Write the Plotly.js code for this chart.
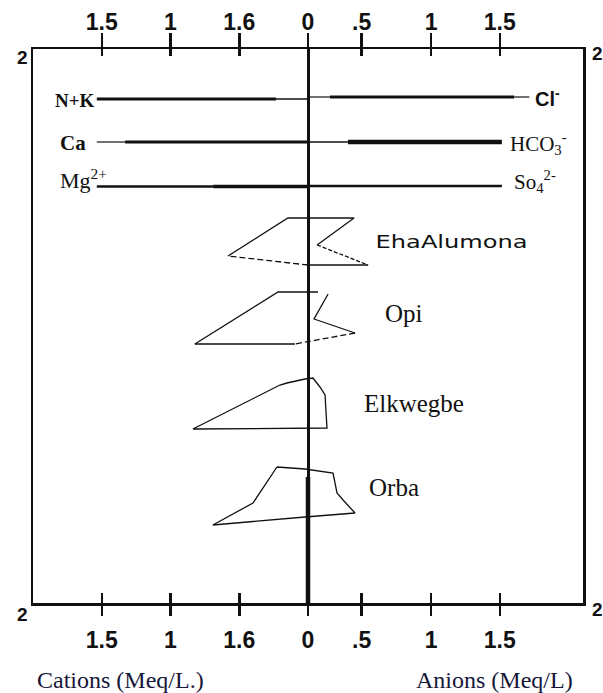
<!DOCTYPE html>
<html><head><meta charset="utf-8">
<script src="https://cdn.plot.ly/plotly-3.0.1.min.js"></script>
<style>html,body{margin:0;padding:0;background:#fff}</style>
</head><body><div id="chart" style="width:603px;height:693px"></div>
<script>
// ---- axis ticks (position in Meq/L, cations to the left) ----
const tickPos = [-1.5, -1, -0.5, 0, 0.39, 0.895, 1.395];
const topTickText = ['1.5', '1', '1.6', '0', '.5', '1', '1.5'];
const bottomTickText = ['1.5', '1', '1.6', '0', '.5', '1', '1.5'];

// ---- key rows (x in Meq/L, y = vertical position) ----
const nkX = [-1.536, -0.233, 0];      const nkY = 50;
const clX = [0, 0.16, 1.50, 1.61];    const clY = 48;
const caX = [-1.536, -1.33, 0];       const caY = 93;
const hco3X = [0, 0.29, 1.41];        const hco3Y = 93;
const mgX = [-1.536, -0.69, 0];       const mgY = 137.5;
const so4X = [0, 1.41];               const so4Y = 137;

// ---- Stiff polygons ----
const ehaX = [-0.582, -0.146, 0.335, 0.066, 0.437, 0, -0.582];
const ehaY = [207, 169, 169, 196, 216, 216, 207];
const opiX = [-0.823, -0.218, 0.073, 0.146, 0.044, 0.342, -0.095, -0.823];
const opiY = [295, 243, 243, 245, 270, 284, 295, 295];
const elkX = [-0.837, -0.204, -0.153, -0.022, 0.036, 0.087, 0.124, 0.131, 0.138, -0.837];
const elkY = [380, 336, 334, 330, 329, 338, 346, 358, 379, 380];
const orbaX = [-0.226, -0.022, 0.182, 0.211, 0.255, 0.342, -0.022, -0.692, -0.400, -0.226];
const orbaY = [418, 420, 424, 444, 451, 464, 468, 476, 454, 418];
// heavier stretch of the zero line below Orba
const axisBoldX = [0, 0];
const axisBoldY = [428, 554];

const traces = [];
function seg(xs, ys, i0, i1, width, dash) {
  traces.push({x: xs.slice(i0, i1 + 1), y: ys.slice(i0, i1 + 1), mode: 'lines', type: 'scatter',
    line: {color: '#111', width: width, dash: dash || 'solid'}, hoverinfo: 'skip', showlegend: false});
}
function keyRow(xs, y, widths) {
  for (let i = 0; i < xs.length - 1; i++) seg(xs, xs.map(() => y), i, i + 1, widths[i]);
}
keyRow(nkX, nkY, [3, 1.4]);
keyRow(clX, clY, [1.2, 3, 1.2]);
keyRow(caX, caY, [1.2, 3]);
keyRow(hco3X, hco3Y, [1.3, 4.5]);
keyRow(mgX, mgY, [2.6, 3.6]);
keyRow(so4X, so4Y, [2.6]);

const pw = 1.3;
seg(ehaX, ehaY, 0, 3, pw); seg(ehaX, ehaY, 3, 4, pw, '4px,2px'); seg(ehaX, ehaY, 4, 5, pw); seg(ehaX, ehaY, 5, 6, pw, '6px,3px');
seg(opiX, opiY, 0, 2, pw); seg(opiX, opiY, 3, 5, pw); seg(opiX, opiY, 5, 6, pw, '6px,3px'); seg(opiX, opiY, 6, 7, pw);
seg(elkX, elkY, 0, elkX.length - 1, pw);
seg(orbaX, orbaY, 0, orbaX.length - 1, pw);
seg(axisBoldX, axisBoldY, 0, 1, 4.5);

// invisible anchors for the extra tick axes
['x2', 'x3', 'x4'].forEach(ax => traces.push({x: [0], y: [0], xaxis: ax, yaxis: 'y', mode: 'markers',
  marker: {opacity: 0}, hoverinfo: 'skip', showlegend: false}));

const tickFont = {family: 'Liberation Sans, Arial, sans-serif', size: 23, color: '#111', weight: 'bold'};
const base = {range: [-2, 2], showgrid: false, zeroline: false, fixedrange: true, tickvals: tickPos, tickwidth: 2.5, tickcolor: '#111'};

const serif = 'Liberation Serif, Times New Roman, serif';
const ann = [];
function lab(text, x, y, font, xanchor) {
  ann.push({text: text, x: x, y: y, xref: 'x', yref: 'y', showarrow: false, xanchor: xanchor || 'left', yanchor: 'middle', font: font});
}
lab('N+K', -1.536, 51, {family: serif, size: 19, color: '#111', weight: 'bold'}, 'right');
lab('Ca', -1.60, 94, {family: serif, size: 21, color: '#111', weight: 'bold'}, 'right');
lab('Mg<sup>2+</sup>', -1.82, 130, {family: serif, size: 22, color: '#111'});
lab('Cl<sup>-</sup>', 1.638, 48, {family: 'Liberation Sans, Arial, sans-serif', size: 20, color: '#111', weight: 'bold'});
lab('HCO<sub>3</sub><sup>-</sup>', 1.456, 94, {family: serif, size: 21, color: '#111'});
lab('So<sub>4</sub><sup>2-</sup>', 1.485, 132, {family: serif, size: 21, color: '#111'});
lab('EhaAlumona', 1.041, 193, {family: 'DejaVu Sans, sans-serif', size: 17, color: '#111'}, 'center');
lab('Opi', 0.546, 264, {family: serif, size: 25, color: '#111'});
lab('Elkwegbe', 0.393, 354, {family: serif, size: 25, color: '#111'});
lab('Orba', 0.43, 438, {family: serif, size: 25, color: '#111'});

function pann(text, x, y, font, xanchor) {
  ann.push({text: text, x: x, y: y, xref: 'paper', yref: 'paper', showarrow: false, xanchor: xanchor || 'center', yanchor: 'middle', font: font});
}
const cornerFont = {family: 'Liberation Sans, Arial, sans-serif', size: 19, color: '#111', weight: 'bold'};
pann('2', -0.02, 0.984, cornerFont);
pann('2', -0.02, -0.02, cornerFont);
pann('2', 1.026, 0.991, cornerFont);
pann('2', 1.026, -0.011, cornerFont);
const titleFont = {family: serif, size: 24, color: '#16163a'};
pann('Cations (Meq/L.)', 0.004, -0.139, titleFont, 'left');
pann('Anions (Meq/L)', 0.985, -0.139, titleFont, 'right');

const layout = {
  width: 603, height: 693,
  margin: {l: 33, r: 20, t: 49, b: 90, pad: 0},
  paper_bgcolor: '#fff', plot_bgcolor: '#fff',
  showlegend: false,
  xaxis: Object.assign({}, base, {side: 'bottom', anchor: 'y', showline: true, linewidth: 2.5, linecolor: '#111',
    ticks: 'outside', ticklen: 10, ticktext: bottomTickText, tickfont: tickFont, ticklabelstandoff: 5,
    zeroline: true, zerolinewidth: 3, zerolinecolor: '#111'}),
  xaxis2: Object.assign({}, base, {overlaying: 'x', side: 'bottom', anchor: 'y', ticks: 'inside', ticklen: 10, showticklabels: false, showline: false}),
  xaxis3: Object.assign({}, base, {overlaying: 'x', side: 'top', anchor: 'y', ticks: 'outside', ticklen: 14, ticktext: topTickText, tickfont: tickFont,
    ticklabelstandoff: -7, showline: true, linewidth: 2.5, linecolor: '#111'}),
  xaxis4: Object.assign({}, base, {overlaying: 'x', side: 'top', anchor: 'y', ticks: 'inside', ticklen: 7, showticklabels: false, showline: false}),
  yaxis: {range: [554, 0], showgrid: false, zeroline: false, showticklabels: false, ticks: '', showline: true, mirror: true,
    linewidth: 2.5, linecolor: '#111', fixedrange: true},
  annotations: ann
};

Plotly.newPlot('chart', traces, layout, {staticPlot: true, displayModeBar: false}).then(() => {
  document.querySelectorAll('.annotation-text').forEach(t => {
    if (t.textContent === 'EhaAlumona') { t.setAttribute('textLength', '152'); t.setAttribute('lengthAdjust', 'spacingAndGlyphs'); }
  });
});
</script></body></html>
